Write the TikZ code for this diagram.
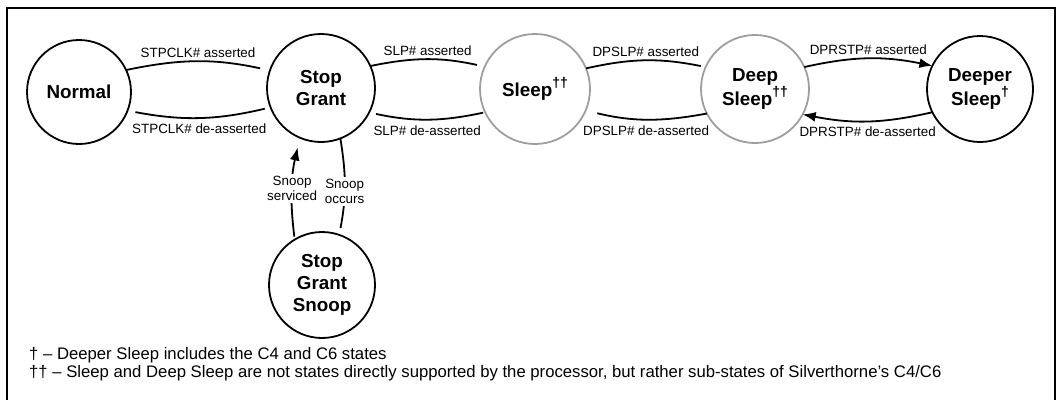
\documentclass[tikz,border=0pt]{standalone}
\usepackage{fontspec}
\setmainfont{Liberation Sans}
\usetikzlibrary{arrows.meta}
\newcommand{\sdag}[1]{\raisebox{0.5em}{\fontsize{14}{14}\selectfont #1}}
\begin{document}
\begin{tikzpicture}[x=1pt,y=1pt,
  state/.style={circle,draw=black,line width=1.8pt,inner sep=0pt,outer sep=0pt,align=center,
    font=\fontsize{18.8}{22}\selectfont\bfseries},
  ghost/.style={state,draw=black!38},
  conn/.style={line width=1.8pt},
  lbl/.style={font=\fontsize{13.4}{15.5}\selectfont,align=center},
  up/.style={lbl,above,inner sep=3pt},
  dn/.style={lbl,below,inner sep=5pt},
  onl/.style={lbl,fill=white,inner sep=2pt},
  tip/.style={-{Latex[length=13pt,width=10pt]}},
  note/.style={anchor=base west,inner sep=0pt,font=\fontsize{16.7}{18}\selectfont}]
\useasboundingbox (0,0) rectangle (1060,-399);
\draw[line width=2.5pt] (7,-420) -- (7,-8) -- (1055,-8) -- (1055,-420);

\node[state,minimum size=104pt] (normal) at (79,-92) {Normal};
\node[state,minimum size=108pt] (stop) at (321,-88) {Stop\\Grant};
\node[ghost,minimum size=110pt] (sleep) at (535,-89) {Sleep\sdag{††}};
\node[ghost,minimum size=108pt] (deep) at (755,-89) {Deep\\Sleep\sdag{††}};
\node[state,minimum size=106pt] (deeper) at (980,-89) {Deeper\\Sleep\sdag{†}};
\node[state,minimum size=106pt] (snoop) at (322,-285) {Stop\\Grant\\Snoop};

\draw[conn,shorten >=10pt] (normal.25) to[bend left=12] node[up]{STPCLK\# asserted} (stop.161);
\draw[conn,shorten <=6pt,shorten >=8pt] (stop.201) to[bend left=12] node[dn]{STPCLK\# de-asserted} (normal.-21);
\draw[conn,shorten >=8pt] (stop.24) to[bend left=12] node[up]{SLP\# asserted} (sleep.156);
\draw[conn,shorten <=2pt,shorten >=7pt] (sleep.205) to[bend left=12] node[dn]{SLP\# de-asserted} (stop.-27);
\draw[conn,shorten >=5pt] (sleep.22) to[bend left=12] node[up]{DPSLP\# asserted} (deep.156);
\draw[conn,shorten >=12pt] (deep.207) to[bend left=12] node[dn]{DPSLP\# de-asserted} (sleep.-23);
\draw[conn,tip] (deep.24) to[bend left=12] node[up]{DPRSTP\# asserted} (deeper.154);
\draw[conn,tip] (deeper.206) to[bend left=12] node[dn]{DPRSTP\# de-asserted} (deep.-28);
\draw[conn,tip,shorten <=3pt,shorten >=10pt] (snoop.121) to[bend left=10] node[onl]{Snoop\\serviced} (stop.247);
\draw[conn,shorten >=7pt] (stop.291) to[bend left=10] node[onl,pos=0.55]{Snoop\\occurs} (snoop.71);

\node[note] (n1) at (29,-359) {† – Deeper Sleep includes the C4 and C6 states};
\node[note] (n2) at (29,-377) {†† – Sleep and Deep Sleep are not states directly supported by the processor, but rather sub-states of Silverthorne’s C4/C6};
\end{tikzpicture}
\end{document}
